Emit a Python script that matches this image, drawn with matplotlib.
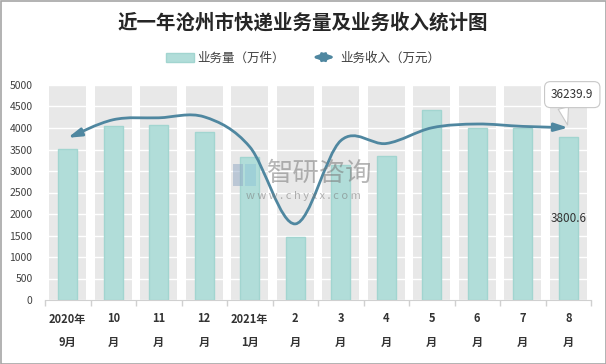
import matplotlib
matplotlib.use("Agg")
import matplotlib.pyplot as plt
import numpy as np
from matplotlib.path import Path
from matplotlib.patches import FancyArrowPatch, Rectangle, Patch
from matplotlib.legend_handler import HandlerBase

plt.rcParams['font.family'] = ['Noto Sans CJK SC', 'DejaVu Sans']

# ---------------- data ----------------
categories = ["2020年\n9月", "10\n月", "11\n月", "12\n月", "2021年\n1月", "2\n月",
              "3\n月", "4\n月", "5\n月", "6\n月", "7\n月", "8\n月"]
volume = [3520, 4050, 4080, 3910, 3320, 1470, 3140, 3360, 4410, 3990, 3990, 3800.6]   # 万件
income = [34100, 37900, 38300, 38500, 32200, 16000, 33500, 32900, 36200, 37000, 36500, 36239.9]  # 万元
yticks = [0, 500, 1000, 1500, 2000, 2500, 3000, 3500, 4000, 4500, 5000]

title = "近一年沧州市快递业务量及业务收入统计图"
bar_label = "业务量（万件）"
line_label = "业务收入（万元）"

bar_color = "#b1ddd9"
bar_edge = "#a2d5d0"
band_color = "#e8e8e8"
line_color = "#4f87a0"

W, H = 606, 364
fig = plt.figure(figsize=(W / 100, H / 100), dpi=100)
fig.patch.set_facecolor("white")

ax = fig.add_axes([45 / W, (H - 300) / H, 546 / W, 215 / H])
ax2 = ax.twinx()

n = len(categories)
x = np.arange(n)

# background column bands
for i in x:
    ax.axvspan(i - 0.405, i + 0.405, color=band_color, zorder=0.1, lw=0)

ax.set_axisbelow(True)
ax.yaxis.grid(True, color="white", lw=1.0)
ax.bar(x, volume, width=0.42, color=bar_color, edgecolor=bar_edge, lw=1.0, zorder=2)

ax.set_xlim(-0.5, n - 0.5)
ax.set_ylim(0, 5000)
ax.set_yticks(yticks)
ax.set_yticklabels([str(v) for v in yticks], fontsize=7.5, color="#404040")
ax.tick_params(axis="y", length=0, pad=9)

# x ticks: boundaries get marks, centers get labels
ax.set_xticks(np.arange(-0.5, n, 1.0))
ax.set_xticklabels([])
ax.tick_params(axis="x", which="major", length=4, color="#d0d0d0", width=1)
ax.set_xticks(x, minor=True)
ax.set_xticklabels(categories, minor=True, fontsize=8, fontweight="bold",
                   color="#333333", linespacing=2.0)
ax.tick_params(axis="x", which="minor", length=0, pad=9)

for s in ["top", "right", "left"]:
    ax.spines[s].set_visible(False)
ax.spines["bottom"].set_color("#d0d0d0")

# secondary axis (hidden) for income
ax2.set_ylim(0, 45200)
ax2.set_xlim(-0.5, n - 0.5)
ax2.axis("off")

# smoothed curve (Catmull-Rom as cubic Bezier) drawn through the data
pts = np.column_stack([x, income]).astype(float)
verts = [tuple(pts[0])]
codes = [Path.MOVETO]
for i in range(n - 1):
    p0 = pts[i - 1] if i > 0 else pts[i]
    p1 = pts[i]
    p2 = pts[i + 1]
    p3 = pts[i + 2] if i + 2 < n else pts[i + 1]
    c1 = p1 + (p2 - p0) / 6.0
    c2 = p2 - (p3 - p1) / 6.0
    verts += [tuple(c1), tuple(c2), tuple(p2)]
    codes += [Path.CURVE4] * 3
curve = FancyArrowPatch(path=Path(verts, codes),
                        arrowstyle="<|-|>,head_length=0.8,head_width=0.24",
                        mutation_scale=10, color=line_color, lw=2.0,
                        transform=ax2.transData, zorder=5, clip_on=False)
ax2.add_patch(curve)

# callout for the last income value
ax2.annotate(f"{income[-1]:.1f}", xy=(x[-1], income[-1]), xytext=(4, 33),
             textcoords="offset pixels", ha="center", va="center",
             fontsize=8.5, color="#333333",
             bbox=dict(boxstyle="round,pad=0.55,rounding_size=0.5", fc="white", ec="#c8c8c8", lw=0.8),
             arrowprops=dict(arrowstyle="wedge,tail_width=0.9,shrink_factor=0.5", fc="white",
                             ec="#c8c8c8", lw=0.8, relpos=(0.25, 0.0), shrinkA=0, shrinkB=2),
             zorder=6)

# data label for the last bar
ax.text(x[-1], volume[-1] / 2, f"{volume[-1]:.1f}", ha="center", va="center",
        fontsize=8.5, color="#333333", zorder=6)

# title
fig.text(0.5, 1 - 23 / H, title, ha="center", va="center", fontsize=14,
         fontweight="bold", color="#262626")

# legend
class HandlerArrow(HandlerBase):
    def create_artists(self, legend, orig_handle, xdescent, ydescent, width, height,
                       fontsize, trans):
        y = height / 2 - ydescent
        p = FancyArrowPatch((-xdescent, y), (width - xdescent, y),
                            arrowstyle="<|-|>,head_length=0.7,head_width=0.26",
                            mutation_scale=10, color=line_color, lw=2.0,
                            transform=trans)
        return [p]

arrow_handle = FancyArrowPatch((0, 0), (1, 0))
leg = fig.legend([Patch(facecolor=bar_color, edgecolor=bar_edge), arrow_handle],
                 [bar_label, line_label],
                 handler_map={FancyArrowPatch: HandlerArrow()},
                 loc="center", bbox_to_anchor=(0.5, 1 - 58 / H), ncol=2,
                 frameon=False, fontsize=9, handlelength=2.3, handletextpad=0.2,
                 columnspacing=2.0, labelcolor="#404040")

# watermark
fig.text(320 / W, 1 - 173 / H, "智研咨询", ha="center", va="center", fontsize=19,
         color="#7a7a7a", alpha=0.55, zorder=10)
fig.text(303 / W, 1 - 196 / H, "w w w . c h y x x . c o m", ha="center", va="center",
         fontsize=8.0, color="#7a7a7a", alpha=0.55, zorder=10)
fig.patches.append(Rectangle((233 / W, 1 - 186 / H), 10 / W, 22 / H, transform=fig.transFigure,
                             fc="#8fa7c4", alpha=0.5, lw=0, zorder=10))
fig.patches.append(Rectangle((245 / W, 1 - 186 / H), 11 / W, 22 / H, transform=fig.transFigure,
                             fc="#8fc4d6", alpha=0.5, lw=0, zorder=10))

# outer border
fig.patches.append(Rectangle((0.5 / W, 0.5 / H), 1 - 1 / W, 1 - 1 / H, transform=fig.transFigure,
                             fill=False, ec="#a6a6a6", lw=1.2, zorder=20))

fig.savefig("out.png", dpi=100)
